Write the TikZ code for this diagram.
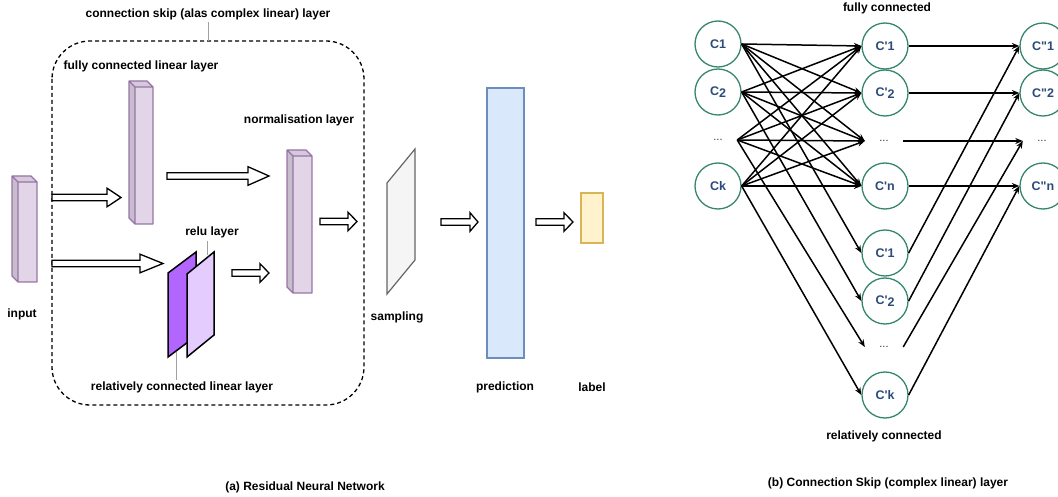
\documentclass[tikz,border=0pt]{standalone}
\usepackage{fontspec}
\setmainfont{Liberation Sans}[Ligatures=TeXOff]
\usetikzlibrary{arrows.meta}
\definecolor{cubefront}{HTML}{E1D5E7}
\definecolor{cubeside}{HTML}{C8BDCD}
\definecolor{cubetop}{HTML}{D5C9DB}
\definecolor{cubeline}{HTML}{9673A6}
\definecolor{relud}{HTML}{B266FF}
\definecolor{relul}{HTML}{E5CCFF}
\definecolor{sampfill}{HTML}{F5F5F5}
\definecolor{sampline}{HTML}{666666}
\definecolor{predfill}{HTML}{DAE8FC}
\definecolor{predline}{HTML}{6C8EBF}
\definecolor{labfill}{HTML}{FFF2CC}
\definecolor{labline}{HTML}{D6B656}
\definecolor{cgreen}{HTML}{35866C}
\definecolor{cblue}{HTML}{2B4C78}
\definecolor{callout}{HTML}{A0A0A0}
\newcommand\mycube[5]{%
  \fill[cubeside] (#1-#5,#2-#5) -- (#1,#2) -- (#1,#4) -- (#1-#5,#4-#5) -- cycle;
  \fill[cubetop] (#1-#5,#2-#5) -- (#3-#5,#2-#5) -- (#3,#2) -- (#1,#2) -- cycle;
  \fill[cubefront] (#1,#2) rectangle (#3,#4);
  \draw[cubeline, line width=1.3pt, line join=round]
    (#1-#5,#2-#5) -- (#3-#5,#2-#5) -- (#3,#2) -- (#3,#4) -- (#1,#4) -- (#1-#5,#4-#5) -- cycle
    (#1-#5,#2-#5) -- (#1,#2) -- (#3,#2) (#1,#2) -- (#1,#4);}
\newcommand\blockarrow[4]{%
  \draw[barrow] (#1,#4-3.3) -- (#2,#4-3.3) -- (#2,#4-9.3) -- (#3,#4) -- (#2,#4+9.3)
    -- (#2,#4+3.3) -- (#1,#4+3.3) -- cycle;}
\begin{document}
\begin{tikzpicture}[x=1pt,y=-1pt,
  lbl/.style={font=\bfseries\fontsize{12}{14}\selectfont, text=black, inner sep=0pt},
  captxt/.style={font=\bfseries\fontsize{12}{14}\selectfont, text=black, inner sep=0pt},
  barrow/.style={draw=black, fill=white, line width=1.3pt, line join=miter},
  circ/.style={circle, draw=cgreen, line width=1.3pt, fill=white, minimum size=46pt,
    inner sep=0pt, font=\bfseries\fontsize{12.5}{14}\selectfont, text=cblue},
  dotsn/.style={minimum width=38pt, minimum height=10pt, inner sep=0pt,
    font=\fontsize{11}{13}\selectfont, text=black!80},
  conn/.style={-{Stealth[length=7.5pt,width=6pt]}, line width=1.5pt, black},
  calloutline/.style={draw=callout, line width=0.8pt}]
\useasboundingbox (0,0) rectangle (1058,497);

% ---------- (a) Residual Neural Network ----------
\draw[black, line width=1.3pt, dash pattern=on 4pt off 3pt, rounded corners=38pt]
  (52,41) rectangle (364,405);
\draw[calloutline] (208,22) -- (208,41);
\node[lbl] (tskip) at (208,14) {connection skip (alas complex linear) layer};
\node[lbl] (tfc) at (141,66) {fully connected linear layer};
\node[lbl] (tnorm) at (299,120) {normalisation layer};

% cuboids
\mycube{18}{182}{37}{282}{6}
\mycube{135}{87}{153}{224}{6}
\mycube{293}{156}{312}{293}{6}

% relu layers
\draw[calloutline] (207,241) -- (207,255);
\draw[calloutline] (176,352) -- (176,380);
\draw[fill=relud, draw=black, line width=1.5pt, line join=miter]
  (168,273) -- (196,252) -- (196,336) -- (168,357) -- cycle;
\draw[fill=relul, draw=black, line width=1.5pt, line join=miter]
  (187,274) -- (214,252) -- (214,335) -- (187,357) -- cycle;
\node[lbl] (trelu) at (212,232) {relu layer};
\node[lbl] (trc) at (182,387) {relatively connected linear layer};

% sampling, prediction, label
\draw[fill=sampfill, draw=sampline, line width=1.2pt, line join=miter]
  (387,183) -- (415,149) -- (415,260) -- (387,294) -- cycle;
\draw[fill=predfill, draw=predline, line width=1.2pt] (487,88) rectangle (524,358);
\draw[fill=labfill, draw=labline, line width=1.2pt] (581,193) rectangle (603,243);

% block arrows
\blockarrow{52}{107}{121}{197.5}
\blockarrow{52}{140}{163}{263.5}
\blockarrow{167}{248}{269}{176}
\blockarrow{232}{260}{269}{273}
\blockarrow{320}{348}{357}{221.5}
\blockarrow{441}{470}{478}{222}
\blockarrow{536}{564}{573}{222}

\node[lbl] (tin) at (22,314) {input};
\node[lbl] (tsamp) at (397,317) {sampling};
\node[lbl] (tpred) at (505,387) {prediction};
\node[lbl] (tlab) at (592,387) {label};
\node[captxt] (capa) at (305,487) {(a) Residual Neural Network};

% ---------- (b) Connection Skip layer ----------
\node[lbl] (tfull) at (887,8) {fully connected};
\node[lbl] (trel) at (884,436) {relatively connected};

\node[circ] (C1) at (718,44) {C1};
\node[circ] (C2) at (718,92) {C\raisebox{-0.3ex}{2}};
\node[dotsn] (d1) at (718,140) {...};
\node[circ] (Ck) at (718,186) {Ck};

\node[circ] (P1) at (885,46) {C'1};
\node[circ] (P2) at (885,93) {C'\raisebox{-0.3ex}{2}};
\node[dotsn] (d2) at (884,141) {...};
\node[circ] (Pn) at (885,186) {C'n};

\node[circ] (Q1) at (885,253) {C'1};
\node[circ] (Q2) at (885,301) {C'\raisebox{-0.3ex}{2}};
\node[dotsn] (d4) at (884,347) {...};
\node[circ] (Qk) at (885,395) {C'k};

\node[circ] (R1) at (1043,46) {C"1};
\node[circ] (R2) at (1043,93) {C"2};
\node[dotsn] (d3) at (1042,141) {...};
\node[circ] (Rn) at (1043,186) {C"n};

\foreach \s in {C1,C2,d1,Ck}
  \foreach \t in {P1,P2,d2,Pn}
    \draw[conn] (\s.east) -- (\t.west);
\draw[conn] (P1.east) -- (R1.west);
\draw[conn] (P2.east) -- (R2.west);
\draw[conn] (d2.east) -- (d3.west);
\draw[conn] (Pn.east) -- (Rn.west);
\draw[conn] (C1.east) -- (Q1.west);
\draw[conn] (C2.east) -- (Q2.west);
\draw[conn] (d1.east) -- (d4.west);
\draw[conn] (Ck.east) -- (Qk.west);
\draw[conn] (Q1.east) -- (R1.west);
\draw[conn] (Q2.east) -- (R2.west);
\draw[conn] (d4.east) -- (d3.west);
\draw[conn] (Qk.east) -- (Rn.west);

\node[captxt] (capb) at (888,483) {(b) Connection Skip (complex linear) layer};
\end{tikzpicture}
\end{document}
